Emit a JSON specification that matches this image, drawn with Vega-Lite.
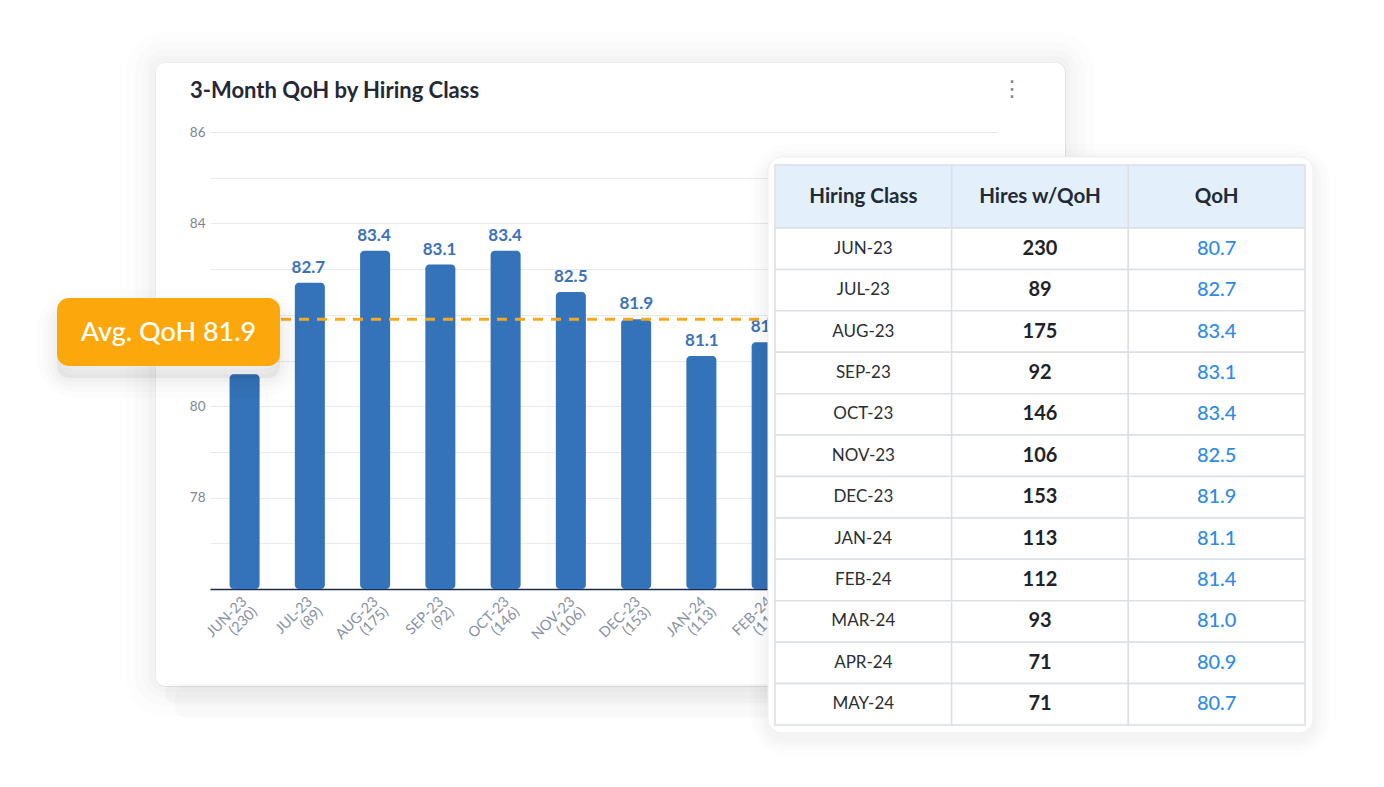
{
  "$schema": "https://vega.github.io/schema/vega-lite/v6.json",
  "width": 910,
  "height": 624,
  "autosize": {"type": "none"},
  "padding": {"left": 155, "top": 62, "right": 319, "bottom": 101},
  "background": "#ffffff",
  "config": {"view": {"stroke": "#ececec", "strokeWidth": 1, "fill": "#ffffff", "cornerRadius": 10}, "font": "Lato"},
  "datasets": {
    "months": [
      {"month": "JUN-23", "hires": 230, "qoh": 80.7},
      {"month": "JUL-23", "hires": 89, "qoh": 82.7},
      {"month": "AUG-23", "hires": 175, "qoh": 83.4},
      {"month": "SEP-23", "hires": 92, "qoh": 83.1},
      {"month": "OCT-23", "hires": 146, "qoh": 83.4},
      {"month": "NOV-23", "hires": 106, "qoh": 82.5},
      {"month": "DEC-23", "hires": 153, "qoh": 81.9},
      {"month": "JAN-24", "hires": 113, "qoh": 81.1},
      {"month": "FEB-24", "hires": 112, "qoh": 81.4},
      {"month": "MAR-24", "hires": 93, "qoh": 81.0},
      {"month": "APR-24", "hires": 71, "qoh": 80.9},
      {"month": "MAY-24", "hires": 71, "qoh": 80.7}
    ]
  },
  "layer": [
    {
      "data": {"values": [{}]},
      "layer": [
        {"mark": {"type": "rect", "cornerRadius": 13, "fillOpacity": 0, "stroke": "#000000", "strokeOpacity": 0.014, "strokeWidth": 6},
         "encoding": {"x": {"datum": 152, "type": "quantitative", "scale": {"type": "linear", "domain": [0, 1384], "range": [-155, 1229], "nice": false, "zero": false}, "axis": null}, "x2": {"datum": 1068}, "y": {"datum": 59, "type": "quantitative", "scale": {"type": "linear", "domain": [0, 787], "range": [-62, 725], "nice": false, "zero": false}, "axis": null}, "y2": {"datum": 689}}},
        {"mark": {"type": "rect", "cornerRadius": 16, "fillOpacity": 0, "stroke": "#000000", "strokeOpacity": 0.012, "strokeWidth": 12},
         "encoding": {"x": {"datum": 149, "type": "quantitative", "scale": {"type": "linear", "domain": [0, 1384], "range": [-155, 1229], "nice": false, "zero": false}, "axis": null}, "x2": {"datum": 1071}, "y": {"datum": 56, "type": "quantitative", "scale": {"type": "linear", "domain": [0, 787], "range": [-62, 725], "nice": false, "zero": false}, "axis": null}, "y2": {"datum": 692}}},
        {"mark": {"type": "rect", "cornerRadius": 20, "fillOpacity": 0, "stroke": "#000000", "strokeOpacity": 0.01, "strokeWidth": 20},
         "encoding": {"x": {"datum": 145, "type": "quantitative", "scale": {"type": "linear", "domain": [0, 1384], "range": [-155, 1229], "nice": false, "zero": false}, "axis": null}, "x2": {"datum": 1075}, "y": {"datum": 52, "type": "quantitative", "scale": {"type": "linear", "domain": [0, 787], "range": [-62, 725], "nice": false, "zero": false}, "axis": null}, "y2": {"datum": 696}}},
        {"mark": {"type": "rect", "cornerRadius": 25, "fillOpacity": 0, "stroke": "#000000", "strokeOpacity": 0.008, "strokeWidth": 30},
         "encoding": {"x": {"datum": 140, "type": "quantitative", "scale": {"type": "linear", "domain": [0, 1384], "range": [-155, 1229], "nice": false, "zero": false}, "axis": null}, "x2": {"datum": 1080}, "y": {"datum": 47, "type": "quantitative", "scale": {"type": "linear", "domain": [0, 787], "range": [-62, 725], "nice": false, "zero": false}, "axis": null}, "y2": {"datum": 701}}},
        {"mark": {"type": "rect", "cornerRadius": 8, "fill": "#000000", "fillOpacity": 0.022},
         "encoding": {"x": {"datum": 165, "type": "quantitative", "scale": {"type": "linear", "domain": [0, 1384], "range": [-155, 1229], "nice": false, "zero": false}, "axis": null}, "x2": {"datum": 1055}, "y": {"datum": 684, "type": "quantitative", "scale": {"type": "linear", "domain": [0, 787], "range": [-62, 725], "nice": false, "zero": false}, "axis": null}, "y2": {"datum": 703}}},
        {"mark": {"type": "rect", "cornerRadius": 12, "fill": "#000000", "fillOpacity": 0.014},
         "encoding": {"x": {"datum": 175, "type": "quantitative", "scale": {"type": "linear", "domain": [0, 1384], "range": [-155, 1229], "nice": false, "zero": false}, "axis": null}, "x2": {"datum": 1045}, "y": {"datum": 684, "type": "quantitative", "scale": {"type": "linear", "domain": [0, 787], "range": [-62, 725], "nice": false, "zero": false}, "axis": null}, "y2": {"datum": 718}}}
      ]
    },
    {
      "data": {"name": "months"},
      "mark": {"type": "bar", "color": "#3473b9", "cornerRadius": 4},
      "encoding": {
        "x": {"field": "month", "type": "nominal", "sort": null, "scale": {"range": [55, 842], "paddingInner": 0.54, "paddingOuter": 0.3}, "axis": null},
        "y": {
          "field": "qoh",
          "type": "quantitative",
          "scale": {"domain": [76, 86], "range": [527, 70], "nice": false, "zero": false},
          "axis": {
            "values": [76, 77, 78, 79, 80, 81, 82, 83, 84, 85, 86],
            "labelExpr": "datum.value % 2 == 0 && datum.value > 76 ? datum.label : ''",
            "title": null,
            "domain": false,
            "ticks": false,
            "offset": -53,
            "labelPadding": 3,
            "labelFont": "Lato",
            "labelFontSize": 13.5,
            "labelColor": "#7b8497",
            "grid": true,
            "gridColor": {"condition": {"test": "datum.value == 76", "value": "#1b2a4e"}, "value": "#e8eaee"},
            "gridWidth": {"condition": {"test": "datum.value == 76", "value": 1.6}, "value": 1}
          }
        },
        "y2": {"datum": 76}
      }
    },
    {
      "data": {"name": "months"},
      "mark": {"type": "text", "baseline": "alphabetic", "dy": -10, "font": "Lato", "fontSize": 17, "fontWeight": "bold", "color": "#3b72b7"},
      "encoding": {
        "x": {"field": "month", "type": "nominal", "sort": null, "scale": {"range": [55, 842], "paddingInner": 0.54, "paddingOuter": 0.3}, "axis": null},
        "y": {"field": "qoh", "type": "quantitative", "scale": {"domain": [76, 86], "range": [527, 70], "nice": false, "zero": false}, "axis": null},
        "text": {"field": "qoh", "type": "quantitative", "format": ".1f"}
      }
    },
    {
      "data": {"name": "months"},
      "mark": {"type": "text", "angle": 315, "align": "right", "baseline": "top", "dx": -6, "dy": 2, "font": "Lato", "fontSize": 14.5, "lineHeight": 14.5, "color": "#8791a3", "text": {"expr": "[datum.month, '(' + datum.hires + ')']"}},
      "encoding": {
        "x": {"field": "month", "type": "nominal", "sort": null, "scale": {"range": [55, 842], "paddingInner": 0.54, "paddingOuter": 0.3}, "axis": null},
        "y": {"datum": 76, "type": "quantitative", "scale": {"domain": [76, 86], "range": [527, 70], "nice": false, "zero": false}, "axis": null}
      }
    },
    {
      "data": {"name": "months"},
      "mark": {"type": "rule", "color": "#f8a81c", "strokeWidth": 3, "strokeDash": [10, 8]},
      "encoding": {
        "y": {"aggregate": "mean", "field": "qoh", "type": "quantitative", "scale": {"domain": [76, 86], "range": [527, 70], "nice": false, "zero": false}, "axis": null}
      }
    },
    {
      "data": {"values": [{}]},
      "layer": [
        {"mark": {"type": "text", "text": "3-Month QoH by Hiring Class", "font": "Lato", "fontSize": 22, "fontWeight": "bold", "color": "#232836", "align": "left", "baseline": "alphabetic"},
         "encoding": {"x": {"datum": 190, "type": "quantitative", "scale": {"type": "linear", "domain": [0, 1384], "range": [-155, 1229], "nice": false, "zero": false}, "axis": null}, "y": {"datum": 98, "type": "quantitative", "scale": {"type": "linear", "domain": [0, 787], "range": [-62, 725], "nice": false, "zero": false}, "axis": null}}},
        {"mark": {"type": "text", "text": "⋮", "font": "DejaVu Sans", "fontSize": 22, "color": "#7d8796", "baseline": "middle", "align": "center"},
         "encoding": {"x": {"datum": 1012, "type": "quantitative", "scale": {"type": "linear", "domain": [0, 1384], "range": [-155, 1229], "nice": false, "zero": false}, "axis": null}, "y": {"datum": 89, "type": "quantitative", "scale": {"type": "linear", "domain": [0, 787], "range": [-62, 725], "nice": false, "zero": false}, "axis": null}}},
        {"mark": {"type": "rect", "cornerRadius": 12, "fill": "#000000", "fillOpacity": 0.05},
         "encoding": {"x": {"datum": 57, "type": "quantitative", "scale": {"type": "linear", "domain": [0, 1384], "range": [-155, 1229], "nice": false, "zero": false}, "axis": null}, "x2": {"datum": 280}, "y": {"datum": 310, "type": "quantitative", "scale": {"type": "linear", "domain": [0, 787], "range": [-62, 725], "nice": false, "zero": false}, "axis": null}, "y2": {"datum": 378}}},
        {"mark": {"type": "rect", "cornerRadius": 14, "fillOpacity": 0, "stroke": "#000000", "strokeOpacity": 0.014, "strokeWidth": 8},
         "encoding": {"x": {"datum": 57, "type": "quantitative", "scale": {"type": "linear", "domain": [0, 1384], "range": [-155, 1229], "nice": false, "zero": false}, "axis": null}, "x2": {"datum": 280}, "y": {"datum": 310, "type": "quantitative", "scale": {"type": "linear", "domain": [0, 787], "range": [-62, 725], "nice": false, "zero": false}, "axis": null}, "y2": {"datum": 378}}},
        {"mark": {"type": "rect", "cornerRadius": 16, "fillOpacity": 0, "stroke": "#000000", "strokeOpacity": 0.014, "strokeWidth": 18},
         "encoding": {"x": {"datum": 57, "type": "quantitative", "scale": {"type": "linear", "domain": [0, 1384], "range": [-155, 1229], "nice": false, "zero": false}, "axis": null}, "x2": {"datum": 280}, "y": {"datum": 310, "type": "quantitative", "scale": {"type": "linear", "domain": [0, 787], "range": [-62, 725], "nice": false, "zero": false}, "axis": null}, "y2": {"datum": 378}}},
        {"mark": {"type": "rect", "cornerRadius": 18, "fillOpacity": 0, "stroke": "#000000", "strokeOpacity": 0.012, "strokeWidth": 28},
         "encoding": {"x": {"datum": 57, "type": "quantitative", "scale": {"type": "linear", "domain": [0, 1384], "range": [-155, 1229], "nice": false, "zero": false}, "axis": null}, "x2": {"datum": 280}, "y": {"datum": 310, "type": "quantitative", "scale": {"type": "linear", "domain": [0, 787], "range": [-62, 725], "nice": false, "zero": false}, "axis": null}, "y2": {"datum": 378}}},
        {"mark": {"type": "rect", "cornerRadius": 20, "fillOpacity": 0, "stroke": "#000000", "strokeOpacity": 0.01, "strokeWidth": 40},
         "encoding": {"x": {"datum": 57, "type": "quantitative", "scale": {"type": "linear", "domain": [0, 1384], "range": [-155, 1229], "nice": false, "zero": false}, "axis": null}, "x2": {"datum": 280}, "y": {"datum": 310, "type": "quantitative", "scale": {"type": "linear", "domain": [0, 787], "range": [-62, 725], "nice": false, "zero": false}, "axis": null}, "y2": {"datum": 378}}},
        {"mark": {"type": "rect", "cornerRadius": 12, "fill": "#fca80d"},
         "encoding": {"x": {"datum": 57, "type": "quantitative", "scale": {"type": "linear", "domain": [0, 1384], "range": [-155, 1229], "nice": false, "zero": false}, "axis": null}, "x2": {"datum": 280}, "y": {"datum": 298, "type": "quantitative", "scale": {"type": "linear", "domain": [0, 787], "range": [-62, 725], "nice": false, "zero": false}, "axis": null}, "y2": {"datum": 366}}},
        {"mark": {"type": "text", "text": "Avg. QoH 81.9", "font": "Lato", "fontSize": 27, "fontWeight": 500, "color": "#ffffff", "align": "center", "baseline": "middle"},
         "encoding": {"x": {"datum": 168.5, "type": "quantitative", "scale": {"type": "linear", "domain": [0, 1384], "range": [-155, 1229], "nice": false, "zero": false}, "axis": null}, "y": {"datum": 333, "type": "quantitative", "scale": {"type": "linear", "domain": [0, 787], "range": [-62, 725], "nice": false, "zero": false}, "axis": null}}},
        {"mark": {"type": "rect", "cornerRadius": 16, "fillOpacity": 0, "stroke": "#000000", "strokeOpacity": 0.012, "strokeWidth": 8},
         "encoding": {"x": {"datum": 768, "type": "quantitative", "scale": {"type": "linear", "domain": [0, 1384], "range": [-155, 1229], "nice": false, "zero": false}, "axis": null}, "x2": {"datum": 1313}, "y": {"datum": 162, "type": "quantitative", "scale": {"type": "linear", "domain": [0, 787], "range": [-62, 725], "nice": false, "zero": false}, "axis": null}, "y2": {"datum": 738}}},
        {"mark": {"type": "rect", "cornerRadius": 18, "fillOpacity": 0, "stroke": "#000000", "strokeOpacity": 0.012, "strokeWidth": 16},
         "encoding": {"x": {"datum": 768, "type": "quantitative", "scale": {"type": "linear", "domain": [0, 1384], "range": [-155, 1229], "nice": false, "zero": false}, "axis": null}, "x2": {"datum": 1313}, "y": {"datum": 162, "type": "quantitative", "scale": {"type": "linear", "domain": [0, 787], "range": [-62, 725], "nice": false, "zero": false}, "axis": null}, "y2": {"datum": 738}}},
        {"mark": {"type": "rect", "cornerRadius": 20, "fillOpacity": 0, "stroke": "#000000", "strokeOpacity": 0.01, "strokeWidth": 26},
         "encoding": {"x": {"datum": 768, "type": "quantitative", "scale": {"type": "linear", "domain": [0, 1384], "range": [-155, 1229], "nice": false, "zero": false}, "axis": null}, "x2": {"datum": 1313}, "y": {"datum": 162, "type": "quantitative", "scale": {"type": "linear", "domain": [0, 787], "range": [-62, 725], "nice": false, "zero": false}, "axis": null}, "y2": {"datum": 738}}},
        {"mark": {"type": "rect", "cornerRadius": 22, "fillOpacity": 0, "stroke": "#000000", "strokeOpacity": 0.008, "strokeWidth": 36},
         "encoding": {"x": {"datum": 768, "type": "quantitative", "scale": {"type": "linear", "domain": [0, 1384], "range": [-155, 1229], "nice": false, "zero": false}, "axis": null}, "x2": {"datum": 1313}, "y": {"datum": 162, "type": "quantitative", "scale": {"type": "linear", "domain": [0, 787], "range": [-62, 725], "nice": false, "zero": false}, "axis": null}, "y2": {"datum": 738}}},
        {"mark": {"type": "rect", "cornerRadius": 14, "fill": "#ffffff", "stroke": "#efefef", "strokeWidth": 1},
         "encoding": {"x": {"datum": 768, "type": "quantitative", "scale": {"type": "linear", "domain": [0, 1384], "range": [-155, 1229], "nice": false, "zero": false}, "axis": null}, "x2": {"datum": 1313}, "y": {"datum": 157, "type": "quantitative", "scale": {"type": "linear", "domain": [0, 787], "range": [-62, 725], "nice": false, "zero": false}, "axis": null}, "y2": {"datum": 733}}}
      ]
    },
    {
      "layer": [
        {
          "data": {"values": [
            {"column": "month", "title": "Hiring Class"},
            {"column": "hires", "title": "Hires w/QoH"},
            {"column": "qoh", "title": "QoH"}
          ]},
          "encoding": {
            "x": {"field": "column", "type": "nominal", "sort": null, "scale": {"domain": ["month", "hires", "qoh"], "range": [620, 1150], "paddingInner": 0, "paddingOuter": 0}, "axis": null},
            "y": {"datum": "header", "type": "nominal", "scale": {"type": "band", "range": [103, 166], "paddingInner": 0, "paddingOuter": 0}, "axis": null}
          },
          "layer": [
            {"mark": {"type": "rect", "fill": "#e3f0fc", "stroke": "#dcdfe3", "strokeWidth": 1.5}},
            {"mark": {"type": "text", "font": "Lato", "fontSize": 20.5, "fontWeight": "bold", "color": "#222a35"}, "encoding": {"text": {"field": "title"}}}
          ]
        },
        {
          "data": {"name": "months"},
          "layer": [
            {
              "transform": [{"fold": ["month", "hires", "qoh"], "as": ["column", "cell"]}],
              "mark": {"type": "rect", "fill": "#ffffff", "stroke": "#dcdfe3", "strokeWidth": 1.5},
              "encoding": {
                "x": {"field": "column", "type": "nominal", "sort": null, "scale": {"domain": ["month", "hires", "qoh"], "range": [620, 1150], "paddingInner": 0, "paddingOuter": 0}, "axis": null},
                "y": {"field": "month", "type": "nominal", "sort": null, "scale": {"range": [166, 663], "paddingInner": 0, "paddingOuter": 0}, "axis": null}
              }
            },
            {
              "mark": {"type": "text", "font": "Lato", "fontSize": 17, "color": "#2a2e35"},
              "encoding": {
                "x": {"datum": "month", "type": "nominal", "axis": null},
                "y": {"field": "month", "type": "nominal", "sort": null, "axis": null},
                "text": {"field": "month"}
              }
            },
            {
              "mark": {"type": "text", "font": "Lato", "fontSize": 20, "fontWeight": "bold", "color": "#1f2329"},
              "encoding": {
                "x": {"datum": "hires", "type": "nominal", "axis": null},
                "y": {"field": "month", "type": "nominal", "sort": null, "axis": null},
                "text": {"field": "hires", "type": "quantitative"}
              }
            },
            {
              "mark": {"type": "text", "font": "Lato", "fontSize": 20, "fontWeight": 500, "color": "#2f8be3"},
              "encoding": {
                "x": {"datum": "qoh", "type": "nominal", "axis": null},
                "y": {"field": "month", "type": "nominal", "sort": null, "axis": null},
                "text": {"field": "qoh", "type": "quantitative", "format": ".1f"}
              }
            }
          ]
        }
      ],
      "resolve": {"scale": {"y": "independent"}}
    }
  ],
  "resolve": {"scale": {"x": "independent", "y": "independent"}}
}
